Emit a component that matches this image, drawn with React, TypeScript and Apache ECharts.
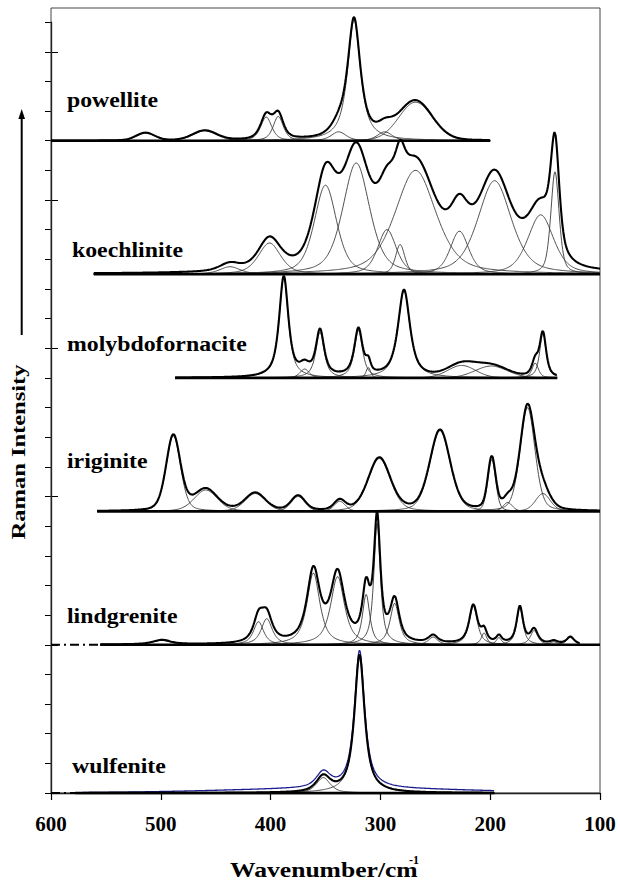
import React, { useEffect, useRef } from "react";
import * as echarts from "echarts";

// ---- axis / tick data ----
const xTickValues = [600, 500, 400, 300, 200, 100];
const yMajorTicks = [5, 10, 15, 20, 25];
const xTitle = "Wavenumber/cm";
const xTitleSup = "-1";
const yTitle = "Raman Intensity";

// ---- spectra (stacked, offset in y-tick units) ----
const spectrumNames = ["powellite", "koechlinite", "molybdofornacite", "iriginite", "lindgrenite", "wulfenite"];
const offsets = [22, 17.5, 14, 9.5, 5, 0];
const curveFrom = [600, 561, 487, 558, 555, 578];
const curveTo = [200, 100, 139, 100, 118, 196];
const baselineFrom = [600, 561, 487, 558, 555, 578];
const baselineTo = [200, 100, 139, 100, 100, 196];
const dashFrom = [0, 0, 0, 0, 600, 600];
const labelX = [67, 72, 67, 67, 67, 72];
const labelY = [100.5, 250, 344, 461, 616.5, 766.5];

// band parameters: centre (cm-1), height, FWHM, Lorentz fraction
const powelliteCenters = [514, 460, 404, 393, 338, 324, 296, 268];
const powelliteHeights = [0.26, 0.33, 0.8, 0.82, 0.3, 4.08, 0.3, 1.3];
const powelliteWidths = [20, 26, 12, 11, 16, 14, 16, 36];
const powelliteShapes = [0.2, 0.2, 0.6, 0.6, 0.5, 0.85, 0.5, 0.1];

const koechliniteCenters = [437, 401, 350, 322, 294, 282, 268, 228, 196, 154, 141];
const koechliniteHeights = [0.25, 1.05, 3.0, 3.75, 1.5, 1.0, 3.5, 1.45, 3.15, 2.0, 3.45];
const koechliniteWidths = [22, 24, 24, 29, 20, 10, 44, 20, 36, 28, 9];
const koechliniteShapes = [0.5, 0.5, 0.5, 0.5, 0.5, 0.5, 0.5, 0.5, 0.5, 0.5, 0.5];

const molybdoCenters = [388, 369, 355, 320, 311, 278.5, 226, 199, 159, 152];
const molybdoHeights = [3.4, 0.3, 1.55, 1.6, 0.35, 2.95, 0.42, 0.4, 0.5, 1.5];
const molybdoWidths = [10, 10, 9, 9, 5, 13, 30, 35, 7, 7];
const molybdoShapes = [0.8, 0.5, 0.8, 0.8, 0.5, 0.8, 0.1, 0.1, 0.6, 0.7];

const iriginiteCenters = [488.6, 459, 414, 375, 337, 301, 245.7, 198.6, 184, 166, 152];
const iriginiteHeights = [2.55, 0.72, 0.6, 0.5, 0.34, 1.78, 2.72, 1.75, 0.3, 3.5, 0.6];
const iriginiteWidths = [15.5, 25, 22, 15, 12, 24, 22, 8.5, 10, 16, 16];
const iriginiteShapes = [0.3, 0.3, 0.3, 0.3, 0.3, 0.3, 0.3, 0.3, 0.3, 0.3, 0.3];

const lindgreniteCenters = [499, 411, 403.5, 361, 339, 313, 303, 287, 252, 215.4, 205.6, 192, 173, 160, 142, 127];
const lindgreniteHeights = [0.15, 0.78, 0.88, 2.42, 2.3, 1.7, 4.1, 1.4, 0.26, 1.3, 0.4, 0.24, 1.25, 0.48, 0.1, 0.25];
const lindgreniteWidths = [20, 11, 12, 14, 15, 8, 7, 10, 10, 9, 6, 6, 7, 8, 8, 8];
const lindgreniteShapes = [0.8, 0.8, 0.8, 0.8, 0.8, 0.8, 0.8, 0.8, 0.8, 0.8, 0.8, 0.8, 0.8, 0.8, 0.8, 0.8];

const wulfeniteCenters = [352, 319];
const wulfeniteHeights = [0.52, 4.65];
const wulfeniteWidths = [15, 11];
const wulfeniteShapes = [0.7, 0.9];
const wulfeniteBackground = [330, 0.15, 260, 0]; // centre, height, FWHM, Lorentz fraction

const bandCenters = [powelliteCenters, koechliniteCenters, molybdoCenters, iriginiteCenters, lindgreniteCenters, wulfeniteCenters];
const bandHeights = [powelliteHeights, koechliniteHeights, molybdoHeights, iriginiteHeights, lindgreniteHeights, wulfeniteHeights];
const bandWidths = [powelliteWidths, koechliniteWidths, molybdoWidths, iriginiteWidths, lindgreniteWidths, wulfeniteWidths];
const bandShapes = [powelliteShapes, koechliniteShapes, molybdoShapes, iriginiteShapes, lindgreniteShapes, wulfeniteShapes];

const SERIF = '"Liberation Serif", "Times New Roman", serif';

function band(x: number, c: number, h: number, w: number, eta: number) {
  const d = (x - c) / (w / 2);
  const lor = 1 / (1 + d * d);
  const gau = Math.exp(-Math.LN2 * d * d);
  return h * (eta * lor + (1 - eta) * gau);
}

function samples(from: number, to: number) {
  const xs: number[] = [];
  for (let x = from; x >= to - 1e-9; x -= 0.5) xs.push(x);
  return xs;
}

function buildSeries() {
  const series: any[] = [];
  spectrumNames.forEach((name, s) => {
    const off = offsets[s];
    const xs = samples(curveFrom[s], curveTo[s]);
    const cs = bandCenters[s];
    cs.forEach((c, i) => {
      const data = xs.map((x) => [x, off + band(x, c, bandHeights[s][i], bandWidths[s][i], bandShapes[s][i])]);
      series.push({
        type: "line", name: name + "-band" + i, data, showSymbol: false, symbol: "none", clip: false,
        lineStyle: { color: "#3a3a3a", width: 0.9 }, z: 2, silent: true,
      });
    });
    if (name === "wulfenite") {
      const b = wulfeniteBackground;
      const data = xs.map((x) => {
        let y = band(x, b[0], b[1], b[2], b[3]);
        cs.forEach((c, i) => { y += band(x, c, bandHeights[s][i], bandWidths[s][i], bandShapes[s][i]); });
        return [x, off + y];
      });
      series.push({
        type: "line", name: name + "-measured", data, showSymbol: false, symbol: "none", clip: false,
        lineStyle: { color: "#1c1c8e", width: 1.3 }, z: 3, silent: true,
      });
    }
    const env = xs.map((x) => {
      let y = 0;
      cs.forEach((c, i) => { y += band(x, c, bandHeights[s][i], bandWidths[s][i], bandShapes[s][i]); });
      return [x, off + y];
    });
    series.push({
      type: "line", name: name + "-sum", data: env, showSymbol: false, symbol: "none", clip: false,
      lineStyle: { color: "#000", width: 2.1 }, z: 4, silent: true,
    });
    series.push({
      type: "line", name: name + "-baseline", data: [[baselineFrom[s], off], [baselineTo[s], off]],
      showSymbol: false, symbol: "none", clip: false,
      lineStyle: { color: "#000", width: 2.6 }, z: 5, silent: true,
    });
    if (dashFrom[s]) {
      series.push({
        type: "line", name: name + "-dash", data: [[dashFrom[s], off], [baselineFrom[s], off]],
        showSymbol: false, symbol: "none", clip: false,
        lineStyle: { color: "#000", width: 2.2, type: [9, 4, 2, 4] }, z: 5, silent: true,
      });
    }
  });
  return series;
}

function buildGraphics() {
  const g: any[] = [];
  g.push({ type: "rect", shape: { x: 51, y: 8, width: 549, height: 785 }, style: { fill: "none", stroke: "#444", lineWidth: 1 }, z: 1 });
  spectrumNames.forEach((name, s) => {
    g.push({
      type: "text", x: labelX[s], y: labelY[s], scaleX: 1.19,
      style: {
        text: name, fontSize: 20, fontWeight: "bold", fontFamily: SERIF, fill: "#000",
        align: "left", verticalAlign: "middle", textAlign: "left", textVerticalAlign: "middle",
      }, z: 10,
    });
  });
  g.push({
    type: "text", x: 230, y: 870, scaleX: 1.28,
    style: { text: xTitle, fontSize: 20, fontWeight: "bold", fontFamily: SERIF, fill: "#000", align: "left", verticalAlign: "middle", textAlign: "left", textVerticalAlign: "middle" },
  });
  g.push({
    type: "text", x: 409, y: 860,
    style: { text: xTitleSup, fontSize: 12, fontWeight: "bold", fontFamily: SERIF, fill: "#000", align: "left", verticalAlign: "middle", textAlign: "left", textVerticalAlign: "middle" },
  });
  g.push({
    type: "text", x: 19, y: 452, rotation: Math.PI / 2, scaleX: 1.29,
    style: { text: yTitle, fontSize: 19, fontWeight: "bold", fontFamily: SERIF, fill: "#000", align: "center", verticalAlign: "middle", textAlign: "center", textVerticalAlign: "middle" },
  });
  g.push({ type: "line", shape: { x1: 21.7, y1: 335, x2: 21.7, y2: 117 }, style: { stroke: "#000", lineWidth: 2 } });
  g.push({ type: "polygon", shape: { points: [[21.7, 109], [18.4, 119], [25, 119]] }, style: { fill: "#000" } });
  return g;
}

export default function App() {
  const ref = useRef<HTMLDivElement>(null);
  useEffect(() => {
    if (!ref.current) return;
    const chart = echarts.init(ref.current, undefined, { renderer: "svg" });
    const option: any = {
      animation: false,
      backgroundColor: "#fff",
      grid: { left: 51, right: 20, top: 793 - 26 * 29.65, bottom: 93, containLabel: false },
      xAxis: {
        type: "value", inverse: true, min: 100, max: 600, interval: 100,
        axisLine: { show: true, lineStyle: { color: "#000", width: 1.3 } },
        axisTick: { show: true, inside: false, length: 7, lineStyle: { color: "#000", width: 1.2 } },
        axisLabel: {
          show: true, margin: 20, fontSize: 21, fontWeight: "bold", fontFamily: SERIF, color: "#000",
          formatter: (v: number) => (xTickValues.indexOf(v) >= 0 ? String(v) : ""),
        },
        splitLine: { show: false },
      },
      yAxis: [
        {
          type: "value", min: 0, max: 26, interval: 1,
          axisLine: { show: true, lineStyle: { color: "#000", width: 1.3 } },
          axisTick: { show: true, inside: false, length: 6, lineStyle: { color: "#000", width: 1 } },
          axisLabel: { show: false }, splitLine: { show: false },
        },
        {
          type: "value", min: 0, max: 26, interval: 5, position: "left",
          axisLine: { show: false },
          axisTick: { show: true, inside: true, length: 7, customValues: yMajorTicks, lineStyle: { color: "#000", width: 1 } },
          axisLabel: { show: false }, splitLine: { show: false },
        },
      ],
      series: buildSeries(),
      graphic: buildGraphics(),
    };
    chart.setOption(option);
    return () => chart.dispose();
  }, []);
  return <div ref={ref} style={{ width: 620, height: 886, position: "absolute", left: 0, top: 0 }} />;
}
